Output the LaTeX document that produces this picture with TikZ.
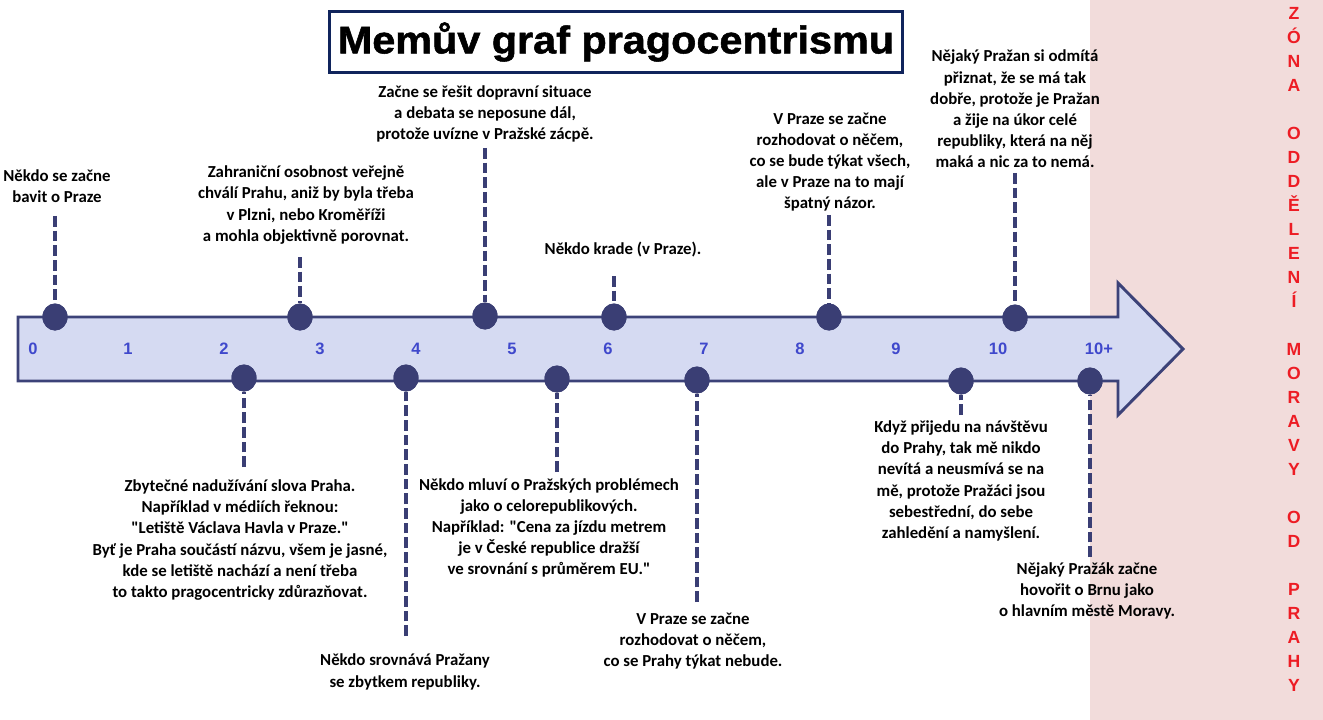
\documentclass[tikz,border=0pt]{standalone}
\usepackage{fontspec}
\setmainfont{Carlito}[Ligatures=TeXOff]
\newfontfamily\arialf{Liberation Sans}
\newfontfamily\titlef{Liberation Sans Bold}[FakeBold=1.3]
\usepackage{graphicx}
\usetikzlibrary{shapes.geometric}
\definecolor{pinkc}{RGB}{242,220,219}
\definecolor{arrowf}{RGB}{213,218,242}
\definecolor{arrowb}{RGB}{60,66,120}
\definecolor{dotc}{RGB}{58,62,116}
\definecolor{titlec}{RGB}{16,36,92}
\definecolor{numc}{RGB}{63,72,204}
\definecolor{redc}{RGB}{237,28,36}
\begin{document}
\begin{tikzpicture}[x=0.75pt,y=-0.75pt,
  note/.style={align=center,font=\fontsize{12.6}{15.9}\selectfont\bfseries,inner sep=0pt},
  dot/.style={ellipse,fill=dotc,minimum width=18.75pt,minimum height=20.25pt,inner sep=0pt},
  link/.style={draw=dotc,line width=3pt,dash pattern=on 8pt off 3pt},
  num/.style={font=\arialf\bfseries\fontsize{12.4}{14}\selectfont,text=numc,inner sep=0pt},
  zone/.style={font=\arialf\bfseries\fontsize{13.2}{18}\selectfont,text=redc,align=center,inner sep=0pt}]
\useasboundingbox (0,0) rectangle (1323,720);
\fill[white] (0,0) rectangle (1323,720);
\fill[pinkc] (1090,0) rectangle (1323,720);

% title
\node[draw=titlec,line width=2.3pt,minimum width=429.75pt,minimum height=45.75pt,inner sep=0pt] (title) at (616,42)
  {\titlef\fontsize{29}{30}\selectfont\scalebox{1.07}[1]{Memův graf pragocentrismu}};

% zone text
\node[zone,anchor=north] (zonetext) at (1294,6.7) {Z\\Ó\\N\\A\\~\\O\\D\\D\\Ě\\L\\E\\N\\Í\\~\\M\\O\\R\\A\\V\\Y\\~\\O\\D\\~\\P\\R\\A\\H\\Y};

% arrow
\draw[line width=2.2pt,draw=arrowb,fill=arrowf,line join=miter] (18,317) -- (1118,317) -- (1118,283) -- (1183,349) -- (1118,415) -- (1118,381) -- (18,381) -- cycle;

% numbers
\foreach \lab/\xx [count=\i] in {0/33,1/128,2/224,3/320,4/416,5/512,6/608,7/704,8/800,9/896,10/998,10+/1099}
  \node[num] (num\i) at (\xx,349) {\lab};

% dots
\node[dot] (d1) at (55,317) {};
\node[dot] (d2) at (300,317) {};
\node[dot] (d3) at (485,316) {};
\node[dot] (d4) at (614,317) {};
\node[dot] (d5) at (829,317) {};
\node[dot] (d6) at (1015,318) {};
\node[dot] (d7) at (244,378) {};
\node[dot] (d8) at (406,378) {};
\node[dot] (d9) at (557,379) {};
\node[dot] (d10) at (697,380) {};
\node[dot] (d11) at (961,381) {};
\node[dot] (d12) at (1090,381) {};

% connector ends
\coordinate (c1) at (55,216);
\coordinate (c2) at (300,257);
\coordinate (c3) at (485,148);
\coordinate (c4) at (614,276);
\coordinate (c5) at (829,215);
\coordinate (c6) at (1015,173);
\coordinate (c7) at (244,467);
\coordinate (c8) at (406,636);
\coordinate (c9) at (557,472);
\coordinate (c10) at (697,602);
\coordinate (c11) at (961,415);
\coordinate (c12) at (1090,557);

\foreach \k in {1,...,12} \draw[link] (c\k) -- (d\k);
\foreach \k in {1,...,12} \node[dot] at (d\k) {};

% texts
\node[note] (n1) at (57,186) {Někdo se začne\\bavit o Praze};
\node[note] (n2) at (306,205) {Zahraniční osobnost veřejně\\chválí Prahu, aniž by byla třeba\\v Plzni, nebo Kroměříži\\a mohla objektivně porovnat.};
\node[note] (n3) at (485,114) {Začne se řešit dopravní situace\\a debata se neposune dál,\\protože uvízne v Pražské zácpě.};
\node[note] (n4) at (623,250) {Někdo krade (v Praze).};
\node[note] (n5) at (830,162) {V Praze se začne\\rozhodovat o něčem,\\co se bude týkat všech,\\ale v Praze na to mají\\špatný názor.};
\node[note] (n6) at (1015,109) {Nějaký Pražan si odmítá\\přiznat, že se má tak\\dobře, protože je Pražan\\a žije na úkor celé\\republiky, která na něj\\maká a nic za to nemá.};
\node[note] (n7) at (240,540) {Zbytečné nadužívání slova Praha.\\Například v médiích řeknou:\\"Letiště Václava Havla v Praze."\\Byť je Praha součástí názvu, všem je jasné,\\kde se letiště nachází a není třeba\\to takto pragocentricky zdůrazňovat.};
\node[note] (n8) at (405,672) {Někdo srovnává Pražany\\se zbytkem republiky.};
\node[note] (n9) at (549,528) {Někdo mluví o Pražských problémech\\jako o celorepublikových.\\Například: "Cena za jízdu metrem\\je v České republice dražší\\ve srovnání s průměrem EU."};
\node[note] (n10) at (693,641) {V Praze se začne\\rozhodovat o něčem,\\co se Prahy týkat nebude.};
\node[note] (n11) at (961,481) {Když přijedu na návštěvu\\do Prahy, tak mě nikdo\\nevítá a neusmívá se na\\mě, protože Pražáci jsou\\sebestřední, do sebe\\zahledění a namyšlení.};
\node[note] (n12) at (1087,591) {Nějaký Pražák začne\\hovořit o Brnu jako\\o hlavním městě Moravy.};
\end{tikzpicture}
\end{document}
